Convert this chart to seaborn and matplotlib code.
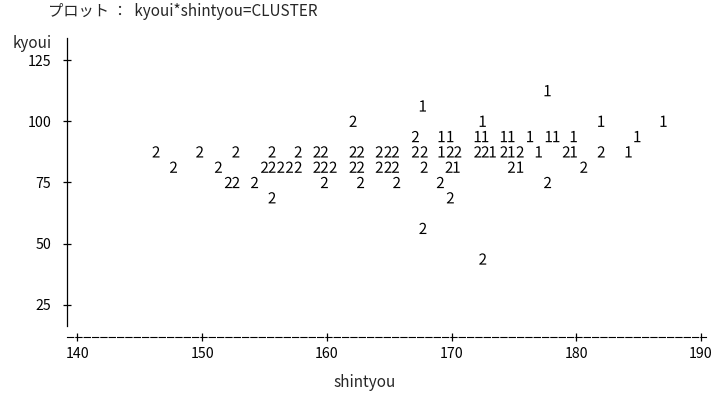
import numpy as np
import pandas as pd
import matplotlib
matplotlib.use("Agg")
import matplotlib.pyplot as plt
import seaborn as sns
from matplotlib.textpath import TextPath
from matplotlib.font_manager import FontProperties
from matplotlib.path import Path

# ---- data ----
shintyou = [
    177.7,
    167.7,
    162.1, 172.5, 182.0, 187.0,
    167.1, 169.2, 169.9, 172.1, 172.7, 174.2, 174.8, 176.3, 177.8, 178.4, 179.8, 184.9,
    146.3, 149.8, 152.7, 155.6, 157.7, 159.2, 159.8, 162.1, 162.7, 164.2, 164.9, 165.5,
    167.1, 167.8, 169.2, 169.9, 170.5, 172.1, 172.7, 173.3, 174.2, 174.8, 175.5, 177.0,
    179.2, 179.8, 182.0, 184.2,
    147.7, 151.3, 155.0, 155.6, 156.3, 157.0, 157.7, 159.2, 159.8, 160.5, 162.1, 162.7,
    164.2, 164.9, 165.5, 167.8, 169.8, 170.4, 174.8, 175.5, 180.6,
    152.1, 152.7, 154.2, 159.8, 162.7, 165.6, 169.1, 177.7,
    155.6, 169.9,
    167.7,
    172.5,
]
kyoui = (
    [112.5]
    + [106.25]
    + [100.0] * 4
    + [93.75] * 12
    + [87.5] * 28
    + [81.25] * 21
    + [75.0] * 8
    + [68.75] * 2
    + [56.25]
    + [43.75]
)
cluster = list(
    "1"
    + "1"
    + "2111"
    + "211111111111"
    + "2222222222222212222121212121"
    + "222222222222222221212"
    + "22222222"
    + "22"
    + "2"
    + "2"
)

x_ticks = [140, 150, 160, 170, 180, 190]
y_ticks = [25, 50, 75, 100, 125]
title_text = "プロット ：  kyoui*shintyou=CLUSTER"

df = pd.DataFrame({"shintyou": shintyou, "kyoui": kyoui, "CLUSTER": cluster})

sns.set_style("white")
plt.rcParams["font.family"] = ["Noto Sans CJK JP", "DejaVu Sans"]
FS = 11
TFS = 10.2

# glyph markers for the cluster symbols
fp = FontProperties(family="Noto Sans CJK JP")
def glyph(ch):
    tp = TextPath((0, 0), ch, size=1, prop=fp)
    ext = tp.get_extents()
    c = np.array([(ext.x0 + ext.x1) / 2, (ext.y0 + ext.y1) / 2])
    return Path(tp.vertices - c, tp.codes)

marker_map = {"1": glyph("1"), "2": glyph("2")}

fig = plt.figure(figsize=(7.13, 4.0), dpi=100)
ax = fig.add_axes([0.0938, 0.1575, 0.8963, 0.7475])

sns.scatterplot(
    data=df, x="shintyou", y="kyoui", style="CLUSTER", markers=marker_map,
    color="black", s=66, linewidth=0, legend=False, ax=ax,
)

ax.set_xlim(139.15, 190.4)
ax.set_ylim(11.9, 134.0)
ax.set_xticks(x_ticks)
ax.set_yticks(y_ticks)
ax.set_xticklabels([str(v) for v in x_ticks], fontsize=TFS)
ax.set_yticklabels([str(v) for v in y_ticks], fontsize=TFS)

for s in ["top", "right"]:
    ax.spines[s].set_visible(False)
ax.spines["left"].set_linewidth(0.9)
ax.spines["left"].set_color("black")
ax.spines["left"].set_bounds(16.5, 134.0)
ax.spines["bottom"].set_color("black")
ax.spines["bottom"].set_linewidth(0.8)
ax.spines["bottom"].set_linestyle((0, (5.6, 1.9)))

ax.tick_params(axis="x", bottom=True, direction="inout", length=6, width=0.9,
               pad=4.5, colors="black")
ax.tick_params(axis="y", left=True, direction="inout", length=6, width=0.9,
               pad=8.3, colors="black")

ax.set_xlabel("shintyou", fontsize=FS)
ax.xaxis.set_label_coords(0.4656, -0.125)
ax.set_ylabel("kyoui", fontsize=FS, rotation=0, ha="right", va="center")
ax.yaxis.set_label_coords(-0.023, 0.983)

fig.text(48 / 713, 1 - 12 / 400, title_text, fontsize=FS, ha="left", va="center")

fig.savefig("out.png", dpi=100)
